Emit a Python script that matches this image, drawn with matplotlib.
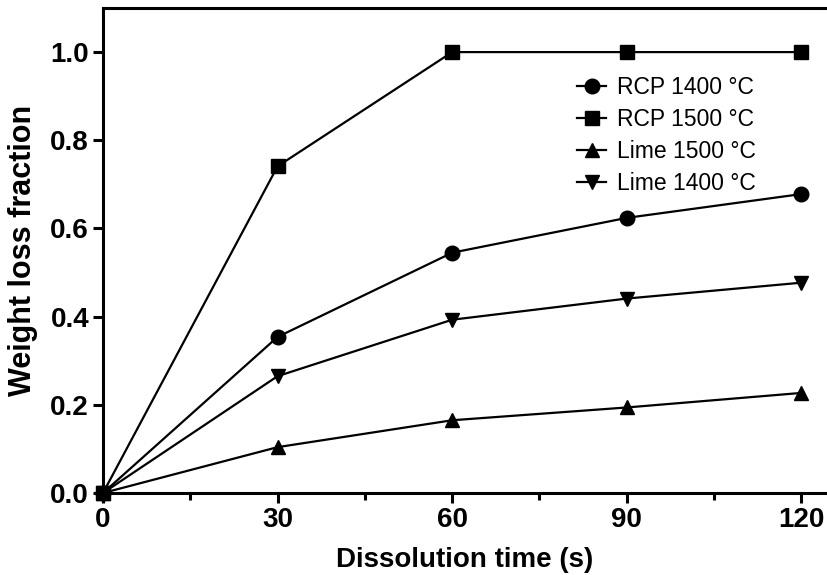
import matplotlib
matplotlib.use("Agg")
import matplotlib.pyplot as plt
from matplotlib.ticker import MultipleLocator

plt.rcParams['font.family'] = ['Liberation Sans', 'DejaVu Sans']

time_s = [0, 30, 60, 90, 120]
rcp_1400 = [0.0, 0.354, 0.545, 0.624, 0.678]
rcp_1500 = [0.0, 0.741, 1.0, 1.0, 1.0]
lime_1500 = [0.0, 0.104, 0.165, 0.194, 0.227]
lime_1400 = [0.0, 0.265, 0.393, 0.441, 0.477]

series = [
    ("RCP 1400 °C", rcp_1400, "o"),
    ("RCP 1500 °C", rcp_1500, "s"),
    ("Lime 1500 °C", lime_1500, "^"),
    ("Lime 1400 °C", lime_1400, "v"),
]

fig = plt.figure(figsize=(8.27, 5.75), dpi=100)
ax = fig.add_axes([103/827, 1 - 493/575, 1 - 103/827, (493 - 8)/575])

for label, vals, m in series:
    ax.plot(time_s, vals, color="black", lw=1.6, marker=m, ms=10.5,
            label=label, clip_on=False, zorder=3)

ax.set_xlim(0, 124.4)
ax.set_ylim(0, 1.1)
ax.xaxis.set_major_locator(MultipleLocator(30))
ax.xaxis.set_minor_locator(MultipleLocator(15))
ax.set_yticks([0, 0.2, 0.4, 0.6, 0.8, 1.0])
ax.set_yticklabels(["0.0", "0.2", "0.4", "0.6", "0.8", "1.0"])

for s in ["left", "bottom", "top"]:
    ax.spines[s].set_linewidth(2.2)
ax.spines["right"].set_visible(False)

ax.tick_params(axis="both", which="major", direction="out", length=7, width=2.2,
               labelsize=20, pad=3)
ax.tick_params(axis="x", which="minor", direction="out", length=5, width=2.2)
for lab in ax.get_xticklabels() + ax.get_yticklabels():
    lab.set_fontweight("bold")

ax.set_xlabel("Dissolution time (s)", fontsize=20, fontweight="bold", labelpad=10.5)
ax.set_ylabel("Weight loss fraction", fontsize=22, fontweight="bold", labelpad=9)

ax.legend(loc="upper left", bbox_to_anchor=(0.632, 0.893), frameon=False,
          fontsize=16.5, handlelength=1.3, handletextpad=0.45, labelspacing=0.4,
          borderpad=0.2)

fig.savefig("out.png", dpi=100)
